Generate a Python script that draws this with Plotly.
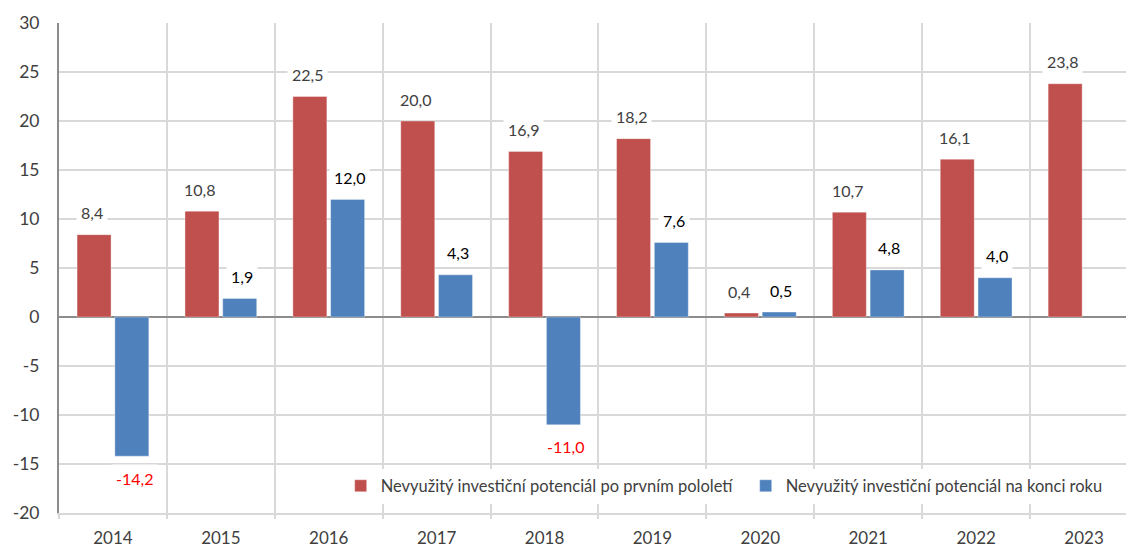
import plotly.graph_objects as go

# Unused investment potential (bn CZK) by year
years = ["2014", "2015", "2016", "2017", "2018", "2019", "2020", "2021", "2022", "2023"]
first_half = [8.4, 10.8, 22.5, 20.0, 16.9, 18.2, 0.4, 10.7, 16.1, 23.8]
year_end = [-14.2, 1.9, 12.0, 4.3, -11.0, 7.6, 0.5, 4.8, 4.0, None]

y_tick_vals = [-20, -15, -10, -5, 0, 5, 10, 15, 20, 25, 30]
y_tick_text = ["-20", "-15", "-10", "-5", "0", "5", "10", "15", "20", "25", "30"]

name_first = "Nevyužitý investiční potenciál po prvním pololetí"
name_end = "Nevyužitý investiční potenciál na konci roku"

RED = "#C0504D"
BLUE = "#4F81BD"
FONT = "Lato"

fig = go.Figure()
fig.add_trace(go.Bar(x=years, y=first_half, name=name_first,
                     marker=dict(color=RED, line=dict(color="rgba(255,255,255,0.35)", width=1))))
fig.add_trace(go.Bar(x=years, y=year_end, name=name_end,
                     marker=dict(color=BLUE, line=dict(color="rgba(255,255,255,0.35)", width=1))))


def fmt(v):
    return f"{v:.1f}".replace(".", ",")


# value labels with white boxes that break the gridlines
offset = 0.196
for series, dx, color in ((first_half, -offset, "#404040"), (year_end, offset, "#000000")):
    for i, v in enumerate(series):
        if v is None:
            continue
        neg = v < 0
        fig.add_annotation(
            x=i + dx, y=v, xref="x", yref="y",
            text=fmt(v), showarrow=False,
            yshift=-22 if neg else 22,
            font=dict(family=FONT, size=16, color="#FF0000" if neg else color),
            bgcolor="white", borderpad=4,
        )

fig.update_layout(
    width=1126, height=548,
    margin=dict(l=59, r=0, t=23, b=35, autoexpand=False),
    paper_bgcolor="white", plot_bgcolor="white",
    barmode="group", bargap=0.3, bargroupgap=0.1,
    font=dict(family=FONT, size=16, color="#404040"),
    showlegend=True,
    legend=dict(
        orientation="h", x=0.264, xanchor="left", y=0.055, yanchor="middle",
        bgcolor="white", font=dict(family=FONT, size=16.5, color="#404040"),
        itemwidth=30, entrywidth=360, entrywidthmode="pixels",
        traceorder="normal",
    ),
)

fig.update_xaxes(
    type="category", range=[-0.5, 9.389],
    tickson="boundaries", showgrid=True, gridcolor="#D9D9D9", gridwidth=1.5,
    ticks="outside", ticklen=4, tickcolor="#D9D9D9", tickwidth=1.5,
    ticklabelstandoff=9,
    showline=True, linecolor="#D9D9D9", linewidth=1.5,
    tickfont=dict(family=FONT, size=17, color="#404040"),
)
fig.update_yaxes(
    range=[-20, 30], tickmode="array", tickvals=y_tick_vals, ticktext=y_tick_text,
    showgrid=True, gridcolor="#D9D9D9", gridwidth=1.5,
    zeroline=True, zerolinecolor="#8C8C8C", zerolinewidth=1.5,
    showline=True, linecolor="#8C8C8C", linewidth=2,
    ticks="", ticklabelstandoff=14,
    tickfont=dict(family=FONT, size=17.5, color="#404040"),
)

fig.write_html("out.html")
